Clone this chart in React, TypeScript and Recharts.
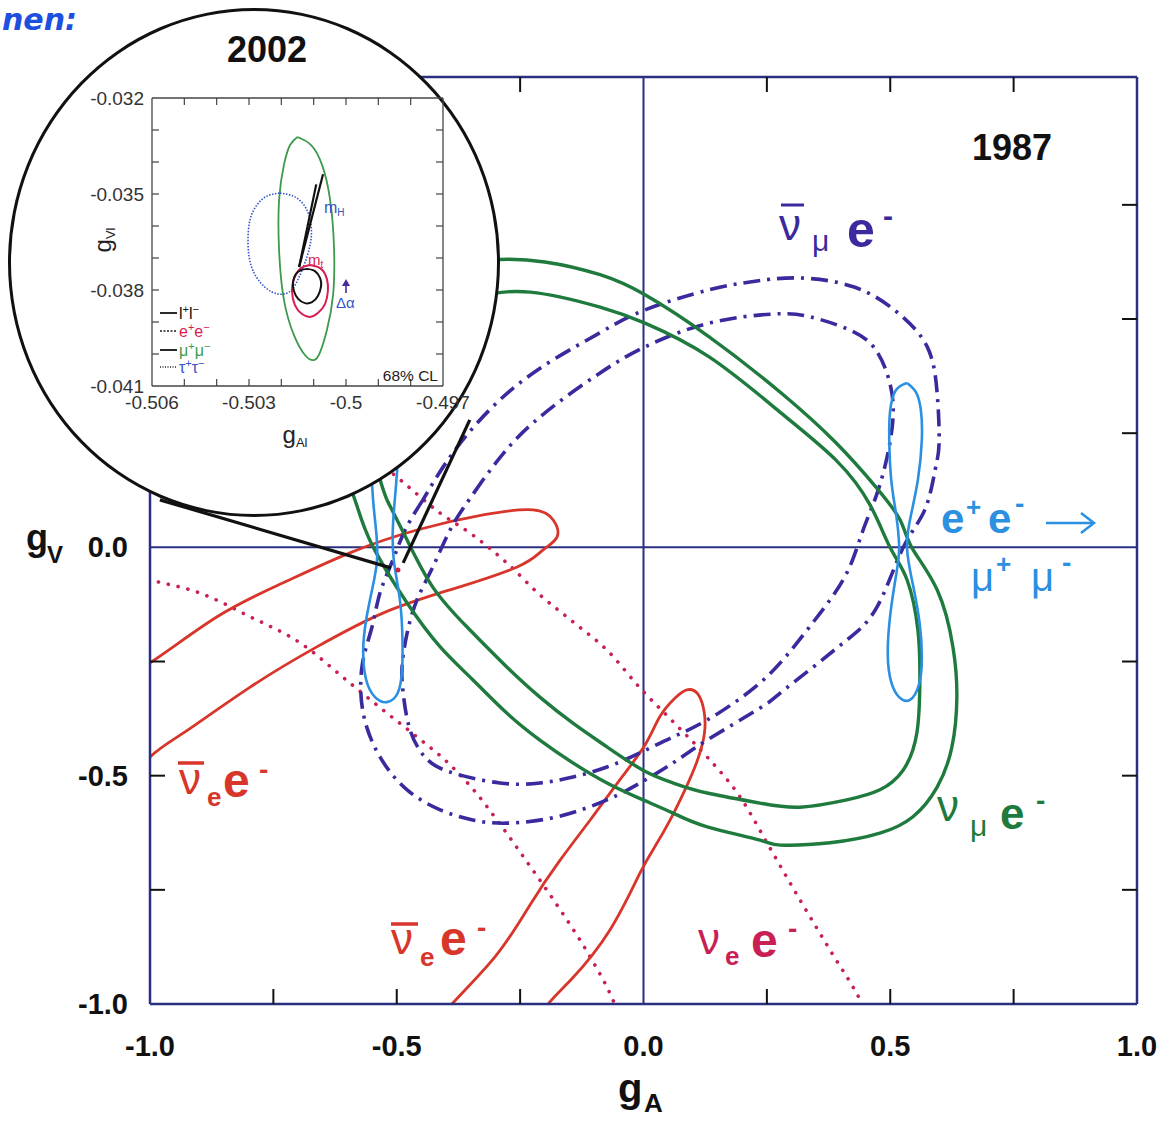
import React from 'react';
import { ComposedChart, Line, XAxis, YAxis, ReferenceLine, ReferenceDot } from 'recharts';

type P = [number, number];

// ---------------- main (1987) chart data ----------------
const X_TICKS = [-1, -0.75, -0.5, -0.25, 0, 0.25, 0.5, 0.75, 1];
const X_TICK_LABELS = ['-1.0', '', '-0.5', '', '0.0', '', '0.5', '', '1.0'];
const Y_TICKS = [-1, -0.75, -0.5, -0.25, 0, 0.25, 0.5, 0.75];
const Y_TICK_LABELS = ['-1.0', '', '-0.5', '', '0.0', '', '0.5', ''];

// nu_mu e-  (green, two contours)
const GREEN_OUTER: P[] = [
  [-0.58, 0.089], [-0.603, 0.17], [-0.609, 0.257], [-0.595, 0.356], [-0.558, 0.454], [-0.498, 0.542],
  [-0.412, 0.603], [-0.311, 0.629], [-0.2, 0.625], [-0.088, 0.597], [0.003, 0.553], [0.133, 0.461],
  [0.279, 0.338], [0.39, 0.229], [0.471, 0.132], [0.52, 0.06], [0.544, -0.001], [0.595, -0.093],
  [0.627, -0.218], [0.635, -0.328], [0.625, -0.437], [0.595, -0.525], [0.546, -0.59], [0.479, -0.626],
  [0.378, -0.647], [0.277, -0.652], [0.236, -0.641], [0.129, -0.612], [0.06, -0.582], [-0.001, -0.553],
  [-0.074, -0.516], [-0.143, -0.472], [-0.21, -0.422], [-0.277, -0.363], [-0.346, -0.29], [-0.412, -0.218],
  [-0.479, -0.122], [-0.548, 0.001], [-0.58, 0.089],
];
const GREEN_INNER: P[] = [
  [-0.52, 0.104], [-0.538, 0.17], [-0.54, 0.257], [-0.524, 0.345], [-0.483, 0.432], [-0.423, 0.502],
  [-0.341, 0.546], [-0.23, 0.559], [-0.088, 0.526], [0.003, 0.491], [0.133, 0.417], [0.279, 0.294],
  [0.39, 0.191], [0.459, 0.093], [0.5, -0.001], [0.534, -0.071], [0.556, -0.181], [0.56, -0.29],
  [0.554, -0.406], [0.526, -0.488], [0.479, -0.531], [0.412, -0.553], [0.317, -0.569], [0.236, -0.56],
  [0.129, -0.538], [0.06, -0.516], [-0.001, -0.488], [-0.074, -0.437], [-0.143, -0.385], [-0.21, -0.328],
  [-0.277, -0.262], [-0.358, -0.174], [-0.427, -0.087], [-0.479, 0.016], [-0.52, 0.104],
];

// anti-nu_mu e-  (indigo dash-dot, two contours)
const DASH_OUTER: P[] = [
  [-0.447, 0.104], [-0.483, 0.038], [-0.508, -0.028], [-0.534, -0.1], [-0.55, -0.174], [-0.57, -0.258],
  [-0.568, -0.363], [-0.534, -0.459], [-0.479, -0.531], [-0.412, -0.575], [-0.346, -0.597], [-0.277, -0.604],
  [-0.175, -0.59], [-0.074, -0.553], [-0.007, -0.516], [0.06, -0.472], [0.129, -0.422], [0.236, -0.352],
  [0.277, -0.319], [0.344, -0.262], [0.412, -0.203], [0.473, -0.131], [0.526, -0.001], [0.57, 0.082],
  [0.591, 0.17], [0.599, 0.229], [0.595, 0.338], [0.575, 0.439], [0.516, 0.513], [0.427, 0.57],
  [0.309, 0.59], [0.216, 0.581], [0.133, 0.564], [0.003, 0.52], [-0.088, 0.47], [-0.19, 0.406],
  [-0.291, 0.323], [-0.382, 0.213], [-0.447, 0.104],
];
const DASH_INNER: P[] = [
  [-0.325, 0.148], [-0.358, 0.097], [-0.392, 0.038], [-0.427, -0.043], [-0.459, -0.115], [-0.479, -0.188],
  [-0.489, -0.258], [-0.487, -0.319], [-0.473, -0.4], [-0.443, -0.459], [-0.392, -0.492], [-0.291, -0.516],
  [-0.21, -0.516], [-0.143, -0.503], [-0.074, -0.481], [-0.007, -0.45], [0.06, -0.415], [0.129, -0.378],
  [0.236, -0.297], [0.311, -0.209], [0.358, -0.144], [0.412, -0.056], [0.445, 0.038], [0.479, 0.137],
  [0.504, 0.264], [0.5, 0.356], [0.471, 0.432], [0.418, 0.476], [0.337, 0.505], [0.264, 0.511],
  [0.133, 0.491], [0.003, 0.439], [-0.088, 0.382], [-0.179, 0.312], [-0.26, 0.235], [-0.325, 0.148],
];

// anti-nu_e e-  (red solid, two contours)
const RED_LEFT: P[] = [
  [-1.101, -0.312], [-1.0, -0.253], [-0.864, -0.152], [-0.731, -0.078], [-0.595, -0.012], [-0.459, 0.038],
  [-0.325, 0.071], [-0.224, 0.082], [-0.183, 0.06], [-0.175, 0.023], [-0.204, -0.006], [-0.256, -0.043],
  [-0.392, -0.093], [-0.528, -0.144], [-0.662, -0.218], [-0.797, -0.306], [-0.933, -0.407], [-1.0, -0.459],
  [-1.101, -0.531], [-1.182, -0.466], [-1.101, -0.312],
];
const RED_BOTTOM: P[] = [
  [-0.433, -1.068], [-0.394, -1.007], [-0.301, -0.897], [-0.23, -0.783], [-0.169, -0.685], [-0.108, -0.597],
  [-0.048, -0.509], [0.003, -0.433], [0.033, -0.371], [0.064, -0.33], [0.088, -0.312], [0.11, -0.321],
  [0.123, -0.361], [0.123, -0.411], [0.108, -0.47], [0.084, -0.531], [0.054, -0.597], [0.025, -0.652],
  [-0.007, -0.713], [-0.068, -0.838], [-0.147, -0.947], [-0.198, -1.007], [-0.24, -1.068], [-0.34, -1.1],
  [-0.433, -1.068],
];

// nu_e e-  (crimson dotted band)
const DOT_A: P[] = [
  [-0.554, 0.202], [-0.493, 0.148], [-0.412, 0.075], [-0.346, 0.027], [-0.277, -0.034], [-0.21, -0.104],
  [-0.143, -0.163], [-0.074, -0.225], [-0.007, -0.308], [0.06, -0.382], [0.129, -0.459], [0.196, -0.547],
  [0.256, -0.658], [0.317, -0.772], [0.378, -0.882], [0.439, -0.991], [0.469, -1.057],
];
const DOT_B: P[] = [
  [-1.101, -0.039], [-1.0, -0.071], [-0.899, -0.1], [-0.797, -0.152], [-0.696, -0.209], [-0.595, -0.297],
  [-0.528, -0.356], [-0.459, -0.415], [-0.392, -0.476], [-0.342, -0.534], [-0.297, -0.597], [-0.23, -0.698],
  [-0.163, -0.803], [-0.108, -0.897], [-0.062, -0.991], [-0.038, -1.057],
];

// e+e- -> mu+mu-  (light blue loops)
const BLUE_RIGHT: P[] = [
  [0.534, 0.36], [0.552, 0.34], [0.562, 0.301], [0.564, 0.235], [0.556, 0.148], [0.542, 0.071],
  [0.534, -0.001], [0.546, -0.082], [0.56, -0.17], [0.564, -0.247], [0.558, -0.301], [0.54, -0.334],
  [0.518, -0.328], [0.502, -0.295], [0.495, -0.236], [0.5, -0.148], [0.512, -0.06], [0.518, -0.001],
  [0.512, 0.071], [0.502, 0.148], [0.498, 0.235], [0.5, 0.301], [0.512, 0.345], [0.534, 0.36],
];
const BLUE_LEFT: P[] = [
  [-0.524, 0.356], [-0.506, 0.334], [-0.498, 0.279], [-0.498, 0.191], [-0.504, 0.104], [-0.508, 0.038],
  [-0.506, -0.028], [-0.495, -0.104], [-0.489, -0.181], [-0.489, -0.264], [-0.498, -0.319], [-0.52, -0.339],
  [-0.544, -0.328], [-0.562, -0.29], [-0.568, -0.225], [-0.562, -0.159], [-0.55, -0.093], [-0.54, -0.028],
  [-0.542, 0.038], [-0.548, 0.104], [-0.552, 0.191], [-0.55, 0.279], [-0.54, 0.334], [-0.524, 0.356],
];

// zoom callout
const CALLOUT_1: P[] = [[-0.98, 0.104], [-0.512, -0.045]];
const CALLOUT_2: P[] = [[-0.352, 0.279], [-0.487, -0.034]];
const RESULT_2002: P = [-0.4975, -0.0495];

// ---------------- inset (2002) data ----------------
const IN_X_TICKS = [-0.506, -0.505, -0.504, -0.503, -0.502, -0.501, -0.5, -0.499, -0.498, -0.497];
const IN_X_LABELS = ['-0.506', '', '', '-0.503', '', '', '-0.5', '', '', '-0.497'];
const IN_Y_TICKS = [-0.041, -0.04, -0.039, -0.038, -0.037, -0.036, -0.035, -0.034, -0.033, -0.032];
const IN_Y_LABELS = ['-0.041', '', '', '-0.038', '', '', '-0.035', '', '', '-0.032'];

const IN_MUMU: P[] = [
  [-0.5015, -0.03322], [-0.50108, -0.03347], [-0.50074, -0.03409], [-0.50049, -0.03519], [-0.50037, -0.03669],
  [-0.5004, -0.03816], [-0.50059, -0.03925], [-0.5008, -0.03994], [-0.50099, -0.04019], [-0.50127, -0.04003],
  [-0.50161, -0.03941], [-0.50192, -0.03831], [-0.50207, -0.03675], [-0.50207, -0.03519], [-0.50192, -0.03409],
  [-0.50173, -0.03347], [-0.5015, -0.03322],
];
const IN_TAUTAU: P[] = [
  [-0.50204, -0.03497], [-0.50158, -0.03509], [-0.50124, -0.03544], [-0.50108, -0.03597], [-0.50111, -0.03659],
  [-0.50133, -0.03731], [-0.50164, -0.03794], [-0.50195, -0.03813], [-0.50229, -0.03806], [-0.50266, -0.03775],
  [-0.50294, -0.03722], [-0.50303, -0.03653], [-0.50297, -0.03581], [-0.50275, -0.03534], [-0.50244, -0.03506],
  [-0.50204, -0.03497],
];
const IN_EE: P[] = [
  [-0.50111, -0.03722], [-0.50077, -0.03734], [-0.50059, -0.03766], [-0.50056, -0.03803], [-0.50065, -0.03844],
  [-0.50087, -0.03872], [-0.50111, -0.03884], [-0.50136, -0.03875], [-0.50158, -0.03847], [-0.50167, -0.03803],
  [-0.50161, -0.03766], [-0.50142, -0.03734], [-0.50111, -0.03722],
];
const IN_LL: P[] = [
  [-0.50121, -0.03734], [-0.50096, -0.03741], [-0.5008, -0.03763], [-0.50077, -0.03788], [-0.50087, -0.03819],
  [-0.50105, -0.03838], [-0.50127, -0.03841], [-0.50148, -0.03828], [-0.50161, -0.03803], [-0.50164, -0.03775],
  [-0.50155, -0.0375], [-0.50139, -0.03738], [-0.50121, -0.03734],
];
const IN_SM_A: P[] = [[-0.50145, -0.03728], [-0.50071, -0.03438]];
const IN_SM_B: P[] = [[-0.50145, -0.03728], [-0.50092, -0.0347]];

// ---------------- styling ----------------
const FONT = '"Liberation Sans", Arial, Helvetica, sans-serif';
const NAVY = '#2a2f80';
const GREEN = '#1f7a3d';
const INDIGO = '#3a2a9e';
const RED = '#d8352b';
const CRIMSON = '#c81f55';
const LBLUE = '#2b8fe2';

const pts = (a: P[]) => a.map(([x, y]) => ({ x, y }));
const idxOf = (arr: number[], v: number) => arr.findIndex((t) => Math.abs(t - v) < 1e-9);

function MainTick(props: any) {
  const { x, y, payload, side } = props;
  const v = payload.value;
  const L = 15;
  if (side === 'bottom') {
    const i = idxOf(X_TICKS, v);
    const inner = v > -1 && v < 1 && v !== 0;
    return (
      <g>
        {inner && <line x1={x} x2={x} y1={y} y2={y - L} stroke="#111" strokeWidth={2} />}
        {i >= 0 && X_TICK_LABELS[i] && (
          <text x={x} y={y + 52} textAnchor="middle" fontSize={29} fontWeight="bold" fill="#111" fontFamily={FONT}>
            {X_TICK_LABELS[i]}
          </text>
        )}
      </g>
    );
  }
  if (side === 'top') {
    const inner = v > -1 && v < 1 && v !== 0;
    return <g>{inner && <line x1={x} x2={x} y1={y} y2={y + L} stroke="#111" strokeWidth={2} />}</g>;
  }
  if (side === 'left') {
    const i = idxOf(Y_TICKS, v);
    const inner = v > -1 && v !== 0;
    return (
      <g>
        {inner && <line x1={x} x2={x + L} y1={y} y2={y} stroke="#111" strokeWidth={2} />}
        {i >= 0 && Y_TICK_LABELS[i] && (
          <text x={x - 22} y={y + 10} textAnchor="end" fontSize={29} fontWeight="bold" fill="#111" fontFamily={FONT}>
            {Y_TICK_LABELS[i]}
          </text>
        )}
      </g>
    );
  }
  const inner = v > -1 && v !== 0;
  return <g>{inner && <line x1={x} x2={x - L} y1={y} y2={y} stroke="#111" strokeWidth={2} />}</g>;
}

function InsetTick(props: any) {
  const { x, y, payload, side } = props;
  const v = payload.value;
  const L = 7;
  const st = { stroke: '#444', strokeWidth: 1.2 };
  if (side === 'bottom') {
    const i = idxOf(IN_X_TICKS, v);
    const inner = i > 0 && i < IN_X_TICKS.length - 1;
    return (
      <g>
        {inner && <line x1={x} x2={x} y1={y} y2={y - L} {...st} />}
        {i >= 0 && IN_X_LABELS[i] && (
          <text x={x} y={y + 23} textAnchor="middle" fontSize={19} fill="#333" fontFamily={FONT}>
            {IN_X_LABELS[i]}
          </text>
        )}
      </g>
    );
  }
  if (side === 'top') {
    const i = idxOf(IN_X_TICKS, v);
    const inner = i > 0 && i < IN_X_TICKS.length - 1;
    return <g>{inner && <line x1={x} x2={x} y1={y} y2={y + L} {...st} />}</g>;
  }
  if (side === 'left') {
    const i = idxOf(IN_Y_TICKS, v);
    const inner = i > 0 && i < IN_Y_TICKS.length - 1;
    return (
      <g>
        {inner && <line x1={x} x2={x + L} y1={y} y2={y} {...st} />}
        {i >= 0 && IN_Y_LABELS[i] && (
          <text x={x - 8} y={y + 7} textAnchor="end" fontSize={19} fill="#333" fontFamily={FONT}>
            {IN_Y_LABELS[i]}
          </text>
        )}
      </g>
    );
  }
  const i = idxOf(IN_Y_TICKS, v);
  const inner = i > 0 && i < IN_Y_TICKS.length - 1;
  return <g>{inner && <line x1={x} x2={x - L} y1={y} y2={y} {...st} />}</g>;
}

const lineProps = { dataKey: 'y', dot: false, activeDot: false, isAnimationActive: false, legendType: 'none' as const };

function MainChart() {
  return (
    <ComposedChart width={1169} height={1122} margin={{ top: 76, right: 31, bottom: 117, left: 149 }}>
      <XAxis
        xAxisId={0} type="number" dataKey="x" domain={[-1, 1]} allowDataOverflow ticks={X_TICKS} interval={0}
        height={1} tickSize={0} tickMargin={0} tickLine={false}
        axisLine={{ stroke: NAVY, strokeWidth: 2.5 }}
        tick={(p: any) => <MainTick {...p} side="bottom" />}
      />
      <XAxis
        xAxisId="top" orientation="top" type="number" dataKey="x" domain={[-1, 1]} allowDataOverflow ticks={X_TICKS}
        interval={0} height={1} tickSize={0} tickMargin={0} tickLine={false}
        axisLine={{ stroke: NAVY, strokeWidth: 2.5 }}
        tick={(p: any) => <MainTick {...p} side="top" />}
      />
      <YAxis
        yAxisId={0} type="number" domain={[-1, 1.03]} allowDataOverflow ticks={Y_TICKS} interval={0}
        width={1} tickSize={0} tickMargin={0} tickLine={false}
        axisLine={{ stroke: NAVY, strokeWidth: 2.5 }}
        tick={(p: any) => <MainTick {...p} side="left" />}
      />
      <YAxis
        yAxisId="right" orientation="right" type="number" domain={[-1, 1.03]} allowDataOverflow ticks={Y_TICKS}
        interval={0} width={1} tickSize={0} tickMargin={0} tickLine={false}
        axisLine={{ stroke: NAVY, strokeWidth: 2.5 }}
        tick={(p: any) => <MainTick {...p} side="right" />}
      />
      <ReferenceLine x={0} stroke={NAVY} strokeWidth={2} />
      <ReferenceLine y={0} stroke={NAVY} strokeWidth={2} />

      <Line {...lineProps} data={pts(DOT_A)} type="monotone" stroke={CRIMSON} strokeWidth={3.6} strokeDasharray="0.1 10" strokeLinecap="round" />
      <Line {...lineProps} data={pts(DOT_B)} type="monotone" stroke={CRIMSON} strokeWidth={3.6} strokeDasharray="0.1 10" strokeLinecap="round" />
      <Line {...lineProps} data={pts(RED_LEFT)} type="natural" stroke={RED} strokeWidth={2.8} />
      <Line {...lineProps} data={pts(RED_BOTTOM)} type="natural" stroke={RED} strokeWidth={2.8} />
      <Line {...lineProps} data={pts(DASH_OUTER)} type="natural" stroke={INDIGO} strokeWidth={3.6} strokeDasharray="17 7 3 7" />
      <Line {...lineProps} data={pts(DASH_INNER)} type="natural" stroke={INDIGO} strokeWidth={3.6} strokeDasharray="17 7 3 7" />
      <Line {...lineProps} data={pts(GREEN_OUTER)} type="natural" stroke={GREEN} strokeWidth={3.4} />
      <Line {...lineProps} data={pts(GREEN_INNER)} type="natural" stroke={GREEN} strokeWidth={3.4} />
      <Line {...lineProps} data={pts(BLUE_RIGHT)} xAxisId="top" yAxisId="right" type="natural" stroke={LBLUE} strokeWidth={2.6} />
      <Line {...lineProps} data={pts(BLUE_LEFT)} xAxisId="top" yAxisId="right" type="natural" stroke={LBLUE} strokeWidth={2.6} />
      <Line {...lineProps} data={pts(CALLOUT_1)} type="linear" stroke="#111" strokeWidth={3.2} />
      <Line {...lineProps} data={pts(CALLOUT_2)} type="linear" stroke="#111" strokeWidth={3.2} />
      <ReferenceDot x={RESULT_2002[0]} y={RESULT_2002[1]} r={2.5} fill="#d0203a" stroke="none" />
    </ComposedChart>
  );
}

function InsetChart() {
  const ax = { stroke: '#444', strokeWidth: 1.3 };
  return (
    <ComposedChart width={500} height={460} margin={{ top: 97, right: 56, bottom: 73, left: 151 }}>
      <XAxis xAxisId={0} type="number" dataKey="x" domain={[-0.506, -0.497]} allowDataOverflow ticks={IN_X_TICKS}
        interval={0} height={1} tickSize={0} tickMargin={0} tickLine={false} axisLine={ax}
        tick={(p: any) => <InsetTick {...p} side="bottom" />} />
      <XAxis xAxisId="top" orientation="top" type="number" dataKey="x" domain={[-0.506, -0.497]} allowDataOverflow
        ticks={IN_X_TICKS} interval={0} height={1} tickSize={0} tickMargin={0} tickLine={false} axisLine={ax}
        tick={(p: any) => <InsetTick {...p} side="top" />} />
      <YAxis yAxisId={0} type="number" domain={[-0.041, -0.032]} allowDataOverflow ticks={IN_Y_TICKS} interval={0}
        width={1} tickSize={0} tickMargin={0} tickLine={false} axisLine={ax}
        tick={(p: any) => <InsetTick {...p} side="left" />} />
      <YAxis yAxisId="right" orientation="right" type="number" domain={[-0.041, -0.032]} allowDataOverflow
        ticks={IN_Y_TICKS} interval={0} width={1} tickSize={0} tickMargin={0} tickLine={false} axisLine={ax}
        tick={(p: any) => <InsetTick {...p} side="right" />} />
      <Line {...lineProps} data={pts(IN_MUMU)} type="natural" stroke="#3d9a4c" strokeWidth={1.8} />
      <Line {...lineProps} data={pts(IN_TAUTAU)} type="natural" stroke="#3355c8" strokeWidth={1.6} strokeDasharray="1.5 1.5" />
      <Line {...lineProps} data={pts(IN_EE)} type="natural" stroke="#d81e50" strokeWidth={2} />
      <Line {...lineProps} data={pts(IN_LL)} type="natural" stroke="#111" strokeWidth={2} />
      <Line {...lineProps} data={pts(IN_SM_A)} xAxisId="top" yAxisId="right" type="linear" stroke="#111" strokeWidth={2.2} />
      <Line {...lineProps} data={pts(IN_SM_B)} xAxisId="top" yAxisId="right" type="linear" stroke="#111" strokeWidth={2.2} />
    </ComposedChart>
  );
}

function Sup({ children, dy = -6, size = 11 }: any) {
  return <tspan dy={dy} fontSize={size}>{children}</tspan>;
}

function MainLabels() {
  const B = 'bold';
  return (
    <svg width={1169} height={1122} style={{ position: 'absolute', left: 0, top: 0, pointerEvents: 'none' }} fontFamily={FONT}>
      <text x={2} y={30} fontSize={30} fontStyle="italic" fontWeight="bold" fill="#1d4fe0" fontFamily='"DejaVu Sans", sans-serif'>nen:</text>
      <text x={1012} y={160} textAnchor="middle" fontSize={36} fontWeight={B} fill="#111">1987</text>

      {/* anti-nu_mu e- */}
      <g fill={INDIGO}>
        <line x1={781} x2={804} y1={205} y2={205} stroke={INDIGO} strokeWidth={3} />
        <text x={779} y={240} fontSize={44}>ν</text>
        <text x={812} y={251} fontSize={30}>μ</text>
        <text x={847} y={247} fontSize={50} fontWeight={B}>e</text>
        <text x={883} y={226} fontSize={30} fontWeight={B}>-</text>
      </g>

      {/* e+e- -> mu+mu- */}
      <g fill={LBLUE}>
        <text x={941} y={533} fontSize={42} fontWeight={B}>e</text>
        <text x={966} y={516} fontSize={26} fontWeight={B}>+</text>
        <text x={988} y={533} fontSize={42} fontWeight={B}>e</text>
        <text x={1015} y={513} fontSize={28} fontWeight={B}>-</text>
        <line x1={1046} x2={1093} y1={523} y2={523} stroke={LBLUE} strokeWidth={2.5} />
        <path d="M1081 513 L1094 523 L1081 533" fill="none" stroke={LBLUE} strokeWidth={2.5} />
        <text x={971} y={591} fontSize={40}>μ</text>
        <text x={996} y={573} fontSize={26} fontWeight={B}>+</text>
        <text x={1031} y={591} fontSize={40}>μ</text>
        <text x={1062} y={572} fontSize={28} fontWeight={B}>-</text>
      </g>

      {/* nu_mu e- */}
      <g fill={GREEN}>
        <text x={937} y={821} fontSize={44}>ν</text>
        <text x={970} y={836} fontSize={30}>μ</text>
        <text x={1000} y={829} fontSize={44} fontWeight={B}>e</text>
        <text x={1036} y={810} fontSize={28} fontWeight={B}>-</text>
      </g>

      {/* anti-nu_e e- (left) */}
      <g fill={RED}>
        <line x1={178} x2={204} y1={763} y2={763} stroke={RED} strokeWidth={3.5} />
        <text x={179} y={794} fontSize={44}>ν</text>
        <text x={207} y={806} fontSize={26} fontWeight={B}>e</text>
        <text x={223} y={797} fontSize={48} fontWeight={B}>e</text>
        <text x={259} y={779} fontSize={28} fontWeight={B}>-</text>
      </g>

      {/* anti-nu_e e- (bottom) */}
      <g fill={RED}>
        <line x1={391} x2={418} y1={924} y2={924} stroke={RED} strokeWidth={3.5} />
        <text x={391} y={954} fontSize={44}>ν</text>
        <text x={420} y={966} fontSize={26} fontWeight={B}>e</text>
        <text x={440} y={955} fontSize={48} fontWeight={B}>e</text>
        <text x={477} y={937} fontSize={28} fontWeight={B}>-</text>
      </g>

      {/* nu_e e- */}
      <g fill={CRIMSON}>
        <text x={698} y={954} fontSize={44}>ν</text>
        <text x={725} y={965} fontSize={26} fontWeight={B}>e</text>
        <text x={751} y={957} fontSize={48} fontWeight={B}>e</text>
        <text x={788} y={938} fontSize={28} fontWeight={B}>-</text>
      </g>

      {/* axis titles */}
      <g fill="#111" fontWeight={B}>
        <text x={26} y={550} fontSize={36}>g</text>
        <text x={47} y={563} fontSize={24}>V</text>
        <text x={618} y={1102} fontSize={40}>g</text>
        <text x={644} y={1112} fontSize={26}>A</text>
      </g>
    </svg>
  );
}

function InsetLabels() {
  return (
    <svg width={520} height={530} style={{ position: 'absolute', left: 0, top: 0, pointerEvents: 'none' }} fontFamily={FONT}>
      <text x={267} y={62} textAnchor="middle" fontSize={36} fontWeight="bold" fill="#111">2002</text>
      <g transform="translate(111,240) rotate(-90)">
        <text x={0} y={0} textAnchor="middle" fontSize={24} fill="#222">
          g<tspan dy={4} fontSize={13}>Vl</tspan>
        </text>
      </g>
      <text x={295} y={443} textAnchor="middle" fontSize={24} fill="#222">
        g<tspan dy={4} fontSize={13}>Al</tspan>
      </text>

      {/* legend */}
      <line x1={160} x2={177} y1={313} y2={313} stroke="#111" strokeWidth={1.8} />
      <text x={179} y={319} fontSize={16} fill="#111">l<Sup>+</Sup><tspan dy={6}>l</tspan><Sup>−</Sup></text>
      <line x1={160} x2={177} y1={331} y2={331} stroke="#555" strokeWidth={1.8} strokeDasharray="2 1.5" />
      <text x={179} y={337} fontSize={16} fill="#d81e50">e<Sup>+</Sup><tspan dy={6}>e</tspan><Sup>−</Sup></text>
      <line x1={160} x2={177} y1={350} y2={350} stroke="#111" strokeWidth={1.8} />
      <text x={179} y={356} fontSize={16} fill="#3d9a4c">μ<Sup>+</Sup><tspan dy={6}>μ</tspan><Sup>−</Sup></text>
      <line x1={160} x2={177} y1={367} y2={367} stroke="#555" strokeWidth={1.8} strokeDasharray="1 1.5" />
      <text x={179} y={373} fontSize={16} fill="#3355c8">τ<Sup>+</Sup><tspan dy={6}>τ</tspan><Sup>−</Sup></text>

      <text x={438} y={381} textAnchor="end" fontSize={15.5} fill="#222">68% CL</text>
      <text x={324} y={213} fontSize={16} fill="#3355c8">m<tspan dy={3} fontSize={10}>H</tspan></text>
      <text x={308} y={265} fontSize={15} fill="#d81e50">m<tspan dy={3} fontSize={10}>t</tspan></text>
      <text x={336} y={308} fontSize={15} fill="#3355c8">Δα</text>
      <line x1={346} x2={346} y1={293} y2={284} stroke="#4a2aa0" strokeWidth={1.6} />
      <path d="M342 286 L346 279 L350 286 Z" fill="#4a2aa0" />
    </svg>
  );
}

export default function App() {
  return (
    <div style={{ position: 'absolute', left: 0, top: 0, width: 1169, height: 1122, background: '#fff', overflow: 'hidden' }}>
      <div style={{ position: 'absolute', left: 0, top: 0 }}>
        <MainChart />
      </div>
      <MainLabels />
      <div
        style={{
          position: 'absolute', left: 8, top: 8, width: 492, height: 509, borderRadius: '50%',
          border: '3px solid #111', background: '#fff', boxSizing: 'border-box',
        }}
      />
      <div style={{ position: 'absolute', left: 0, top: 0 }}>
        <InsetChart />
      </div>
      <InsetLabels />
    </div>
  );
}
